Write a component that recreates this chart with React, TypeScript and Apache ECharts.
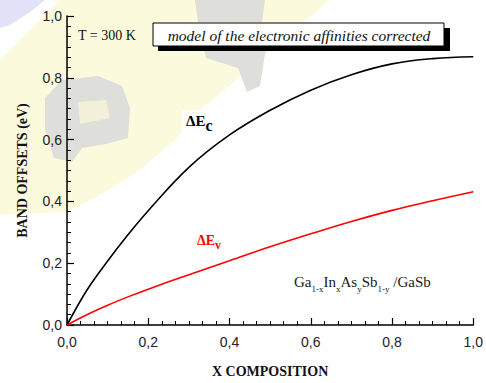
import React, { useEffect, useRef } from "react";
import * as echarts from "echarts";

const xValues = [0, 0.05, 0.1, 0.15, 0.2, 0.3, 0.4, 0.5, 0.6, 0.7, 0.8, 0.9, 1.0];
const deltaEc = [0, 0.115, 0.207, 0.292, 0.37, 0.51, 0.615, 0.695, 0.76, 0.81, 0.845, 0.862, 0.868];
const deltaEv = [0, 0.034, 0.064, 0.091, 0.116, 0.163, 0.208, 0.253, 0.295, 0.335, 0.371, 0.402, 0.431];

const xAxisTitle = "X COMPOSITION";
const yAxisTitle = "BAND OFFSETS (eV)";
const tempLabel = "T = 300 K";
const modelLabel = "model of the electronic affinities corrected";

const fmt = (v: number) => v.toFixed(1).replace(".", ",");

export default function App() {
  const ref = useRef<HTMLDivElement>(null);
  useEffect(() => {
    document.body.style.margin = "0";
    if (!ref.current) return;
    const chart = echarts.init(ref.current, undefined, { renderer: "svg" });
    const serif = "Liberation Serif";
    const sans = "Liberation Sans";
    chart.setOption({
      animation: false,
      backgroundColor: "#ffffff",
      grid: { left: 67, right: 12, top: 16, bottom: 50, containLabel: false },
      xAxis: {
        type: "value",
        min: 0,
        max: 1,
        interval: 0.2,
        name: xAxisTitle,
        nameLocation: "middle",
        nameGap: 39,
        nameTextStyle: { fontFamily: serif, fontWeight: "bold", fontSize: 14, color: "#111" },
        axisLine: { show: true, lineStyle: { color: "#000", width: 1.5 } },
        axisTick: { show: true, inside: true, length: 7, lineStyle: { color: "#000", width: 1.2 } },
        minorTick: { show: true, splitNumber: 6, length: 4, lineStyle: { color: "#000", width: 1 } },
        axisLabel: { fontFamily: sans, fontSize: 14, color: "#222", margin: 10, formatter: fmt },
        splitLine: { show: false },
      },
      yAxis: {
        type: "value",
        min: 0,
        max: 1,
        interval: 0.2,
        name: yAxisTitle,
        nameLocation: "middle",
        nameGap: 38,
        nameTextStyle: { fontFamily: serif, fontWeight: "bold", fontSize: 14, color: "#111" },
        axisLine: { show: true, lineStyle: { color: "#000", width: 1.5 } },
        axisTick: { show: true, inside: true, length: 7, lineStyle: { color: "#000", width: 1.2 } },
        minorTick: { show: true, splitNumber: 6, length: 4, lineStyle: { color: "#000", width: 1 } },
        axisLabel: { fontFamily: sans, fontSize: 14, color: "#222", margin: 5, formatter: fmt },
        splitLine: { show: false },
      },
      series: [
        {
          type: "line",
          name: "dEc",
          data: xValues.map((x, i) => [x, deltaEc[i]]),
          smooth: 0.4,
          showSymbol: false,
          lineStyle: { color: "#000", width: 1.6 },
          z: 5,
        },
        {
          type: "line",
          name: "dEv",
          data: xValues.map((x, i) => [x, deltaEv[i]]),
          smooth: 0.4,
          showSymbol: false,
          lineStyle: { color: "#ff0000", width: 1.6 },
          z: 5,
        },
      ],
      graphic: [
        // faint watermark background
        {
          type: "polygon",
          z: -10,
          silent: true,
          shape: { points: [[0, 0], [45, 0], [30, 12], [10, 25], [0, 28]] },
          style: { fill: "#e2e2f8" },
        },
        {
          type: "polygon",
          z: -10,
          silent: true,
          shape: {
            points: [[60, 0], [330, 0], [300, 25], [265, 55], [230, 85], [200, 110], [175, 140], [140, 170], [100, 195], [67, 212], [0, 215], [0, 60]],
          },
          style: { fill: "#fcfadc" },
        },
        {
          type: "polygon",
          z: -9,
          silent: true,
          shape: {
            points: [[45, 98], [62, 80], [98, 76], [122, 86], [130, 108], [128, 138], [106, 144], [82, 148], [72, 162], [54, 158], [45, 130]],
          },
          style: { fill: "#dededa" },
        },
        {
          type: "polygon",
          z: -8,
          silent: true,
          shape: { points: [[78, 102], [106, 100], [110, 118], [80, 124]] },
          style: { fill: "#f2f0d8" },
        },
        {
          type: "polygon",
          z: -9,
          silent: true,
          shape: { points: [[195, 0], [265, 0], [262, 22], [198, 22]] },
          style: { fill: "#dededa" },
        },
        {
          type: "polygon",
          z: -9,
          silent: true,
          shape: { points: [[204, 48], [266, 48], [260, 86], [247, 92], [238, 68], [206, 58]] },
          style: { fill: "#dededa" },
        },
        // annotations
        {
          type: "text",
          x: 78,
          y: 35,
          z: 10,
          style: { text: tempLabel, fontFamily: serif, fontSize: 14, fill: "#111", verticalAlign: "middle", align: "left" },
        },
        {
          type: "rect",
          z: 9,
          shape: { x: 158, y: 28, width: 292, height: 23 },
          style: { fill: "#000" },
        },
        {
          type: "rect",
          z: 10,
          shape: { x: 153, y: 23, width: 291, height: 23 },
          style: { fill: "#fff", stroke: "#000", lineWidth: 1 },
        },
        {
          type: "text",
          x: 299,
          y: 35,
          z: 11,
          style: { text: modelLabel, fontFamily: serif, fontStyle: "italic", fontSize: 15.5, fill: "#111", align: "center", verticalAlign: "middle" },
        },
        {
          type: "text",
          x: 182,
          y: 110,
          z: 10,
          style: {
            text: "{m|ΔE}{s|c}",
            align: "left",
            verticalAlign: "top",
            backgroundColor: "#fff",
            padding: [3, 4, 3, 4],
            rich: {
              m: { fontFamily: serif, fontWeight: "bold", fontSize: 15, fill: "#000", lineHeight: 15, verticalAlign: "top" },
              s: { fontFamily: serif, fontWeight: "bold", fontSize: 16, fill: "#000", verticalAlign: "top", padding: [4, 0, 0, 0] },
            },
          },
        },
        {
          type: "text",
          x: 197,
          y: 233,
          z: 10,
          style: {
            text: "{m|ΔE}{s|v}",
            align: "left",
            verticalAlign: "top",
            rich: {
              m: { fontFamily: serif, fontWeight: "bold", fontSize: 14, fill: "#ff0000", lineHeight: 14, verticalAlign: "top" },
              s: { fontFamily: serif, fontWeight: "bold", fontSize: 12, fill: "#ff0000", verticalAlign: "top", padding: [6, 0, 0, 0] },
            },
          },
        },
        {
          type: "text",
          x: 294,
          y: 274,
          z: 10,
          style: {
            text: "{m|Ga}{s|1-x}{m|In}{s|x}{m|As}{s|y}{m|Sb}{s|1-y}{m| /GaSb}",
            align: "left",
            verticalAlign: "top",
            rich: {
              m: { fontFamily: serif, fontSize: 15, fill: "#222", lineHeight: 15, verticalAlign: "top" },
              s: { fontFamily: serif, fontSize: 9, fill: "#222", verticalAlign: "top", padding: [10, 0, 0, 0] },
            },
          },
        },
      ],
    });
    return () => chart.dispose();
  }, []);
  return <div ref={ref} style={{ width: 486, height: 383 }} />;
}
